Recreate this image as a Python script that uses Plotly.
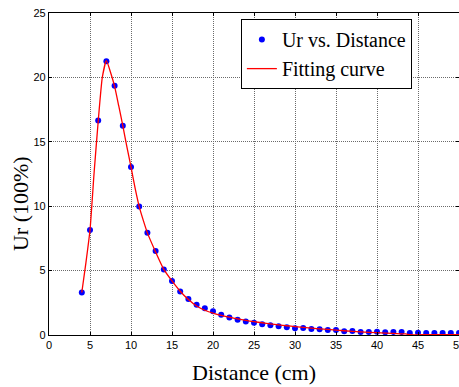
import plotly.graph_objects as go

# Measured data points (Distance in cm, Ur in %)
dist_pts = [4, 5, 6, 7, 8, 9, 10, 11, 12, 13, 14, 15, 16, 17, 18, 19, 20, 21, 22, 23,
            24, 25, 26, 27, 28, 29, 30, 31, 32, 33, 34, 35, 36, 37, 38, 39, 40, 41,
            42, 43, 44, 45, 46, 47, 48, 49, 50]
ur_pts = [3.3, 8.15, 16.65, 21.25, 19.35, 16.25, 13.05, 9.97, 7.93, 6.53, 5.08, 4.2,
          3.38, 2.8, 2.35, 2.07, 1.84, 1.58, 1.35, 1.19, 1.04, 0.96, 0.83, 0.75, 0.67,
          0.6, 0.52, 0.54, 0.47, 0.44, 0.38, 0.39, 0.29, 0.31, 0.24, 0.24, 0.26, 0.21,
          0.23, 0.23, 0.16, 0.18, 0.16, 0.16, 0.16, 0.16, 0.16]

# Fitting curve
dist_fit = [4, 4.5, 5, 5.5, 6, 6.5, 7, 7.5, 8, 8.5, 9, 9.5, 10, 10.5, 11, 11.5, 12, 13,
            14, 15, 16, 17, 18, 19, 20, 21, 22, 23, 24, 25, 26, 27, 28, 29, 30, 32, 34,
            36, 38, 40, 42, 43.5, 44, 46, 48, 50]
ur_fit = [3.3, 5.6, 8.15, 12.6, 16.6, 20.0, 21.3, 20.4, 19.3, 17.8, 16.25, 14.6, 13.05,
          11.4, 9.97, 8.9, 7.93, 6.45, 5.1, 4.2, 3.4, 2.75, 2.25, 1.92, 1.7, 1.52, 1.38,
          1.25, 1.13, 1.03, 0.95, 0.87, 0.79, 0.72, 0.65, 0.53, 0.43, 0.33, 0.24, 0.18,
          0.12, 0.08, 0.02, 0.02, 0.02, 0.02]

x_ticks = [0, 5, 10, 15, 20, 25, 30, 35, 40, 45, 50]
y_ticks = [0, 5, 10, 15, 20, 25]

SERIF = "Times New Roman, Liberation Serif, serif"
SANS = "Arial, Liberation Sans, sans-serif"

fig = go.Figure()
fig.add_trace(go.Scatter(
    x=dist_pts, y=ur_pts, mode="markers", name="Ur vs. Distance",
    marker=dict(color="#0000FF", size=6, line=dict(width=0)),
))
fig.add_trace(go.Scatter(
    x=dist_fit, y=ur_fit, mode="lines", name="Fitting curve",
    line=dict(color="#FF0000", width=1.3, shape="spline", smoothing=0.5),
))

axis_common = dict(
    showgrid=True, gridcolor="#6a6a6a", griddash="1px,1px", gridwidth=1,
    showline=True, linecolor="black", linewidth=1.3, mirror="ticks",
    ticks="inside", ticklen=3, tickcolor="black",
    tickfont=dict(family=SANS, size=11, color="black"),
    zeroline=False, ticklabeloverflow="allow", automargin=False,
)

fig.update_xaxes(range=[0, 50], tickvals=x_ticks, ticktext=[str(v) for v in x_ticks],
                 **axis_common)
fig.update_yaxes(range=[0, 25], tickvals=y_ticks, ticktext=[str(v) for v in y_ticks],
                 **axis_common)

fig.add_annotation(text="Distance (cm)", xref="paper", yref="paper",
                   x=0.5, y=-0.118, xanchor="center", yanchor="middle",
                   showarrow=False,
                   font=dict(family=SERIF, size=22, color="black"))
fig.add_annotation(text="Ur (100%)", xref="paper", yref="paper",
                   x=-0.068, y=0.407, xanchor="center", yanchor="middle",
                   textangle=-90, showarrow=False,
                   font=dict(family=SERIF, size=22, color="black"))

fig.update_layout(
    width=459, height=387,
    margin=dict(l=49, r=0, t=13, b=52, autoexpand=False),
    plot_bgcolor="white", paper_bgcolor="white",
    showlegend=True,
    font=dict(family=SERIF),
    legend=dict(
        x=0.468, y=0.981, xanchor="left", yanchor="top",
        bgcolor="white", bordercolor="black", borderwidth=1,
        font=dict(family=SERIF, size=20, color="black"),
        tracegroupgap=0, itemwidth=30,
    ),
)

fig.write_html("out.html", config={"displayModeBar": False},
               post_script="document.body.style.margin='0';")
